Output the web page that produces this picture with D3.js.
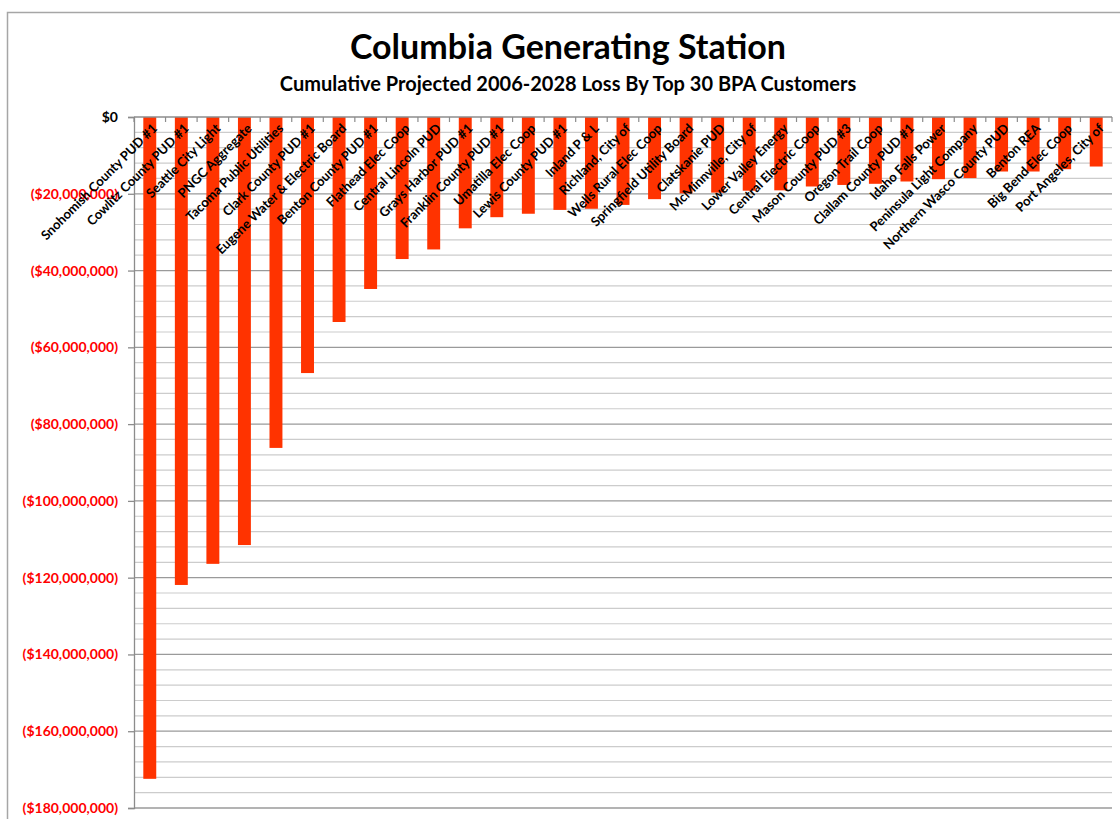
<!DOCTYPE html>
<html lang='en'>
	<head>
		<meta charset='utf-8'>
		<title>Columbia Generating Station</title>
		<script src="https://d3js.org/d3.v7.min.js"></script>
		<style type="text/css">
			body { margin: 0; background: #fff; }
			text { font-family: Lato, "Open Sans", sans-serif; font-weight: bold; }
		</style>
	</head>
	<body>
		<script type='text/javascript'>
			//Customers, in chart order
			var customers = ["Snohomish County PUD #1", "Cowlitz County PUD #1", "Seattle City Light",
				"PNGC Aggregate", "Tacoma Public Utilities", "Clark County PUD #1",
				"Eugene Water & Electric Board", "Benton County PUD #1", "Flathead Elec Coop",
				"Central Lincoln PUD", "Grays Harbor PUD #1", "Franklin County PUD #1",
				"Umatilla Elec Coop", "Lewis County PUD #1", "Inland P & L", "Richland, City of",
				"Wells Rural Elec Coop", "Springfield Utility Board", "Clatskanie PUD",
				"McMinnville, City of", "Lower Valley Energy", "Central Electric Coop",
				"Mason County PUD #3", "Oregon Trail Coop", "Clallam County PUD #1",
				"Idaho Falls Power", "Peninsula Light Company", "Northern Wasco County PUD",
				"Benton REA", "Big Bend Elec Coop", "Port Angeles, City of"];

			//Cumulative loss, millions of dollars
			var losses = [-172.4, -121.9, -116.4, -111.5, -86.2, -66.7, -53.4, -44.8, -37.0,
				-34.5, -29.0, -26.1, -25.2, -24.2, -23.9, -22.9, -21.4, -19.9, -19.7, -19.2,
				-19.1, -18.1, -17.7, -17.4, -16.8, -16.2, -15.9, -14.2, -14.2, -13.6, -12.9];

			//Axis ticks, millions
			var majorTicks = [0, -20, -40, -60, -80, -100, -120, -140, -160, -180];
			var minorTicks = [-4, -8, -12, -16, -24, -28, -32, -36, -44, -48, -52, -56,
				-64, -68, -72, -76, -84, -88, -92, -96, -104, -108, -112, -116,
				-124, -128, -132, -136, -144, -148, -152, -156, -164, -168, -172, -176];

			var w = 1120;
			var h = 819;
			var pLeft = 134, pRight = 1112, pTop = 117, pBottom = 808;

			var svg = d3.select("body")
						.append("svg")
						.attr("width", w)
						.attr("height", h);

			//Outer chart border (top and left only visible)
			svg.append("path")
			   .attr("d", "M7.5,819V12.5H1120")
			   .attr("fill", "none")
			   .attr("stroke", "#a6a6a6")
			   .attr("stroke-width", 1.5);

			var x = d3.scaleBand()
					  .domain(customers)
					  .range([pLeft, pRight])
					  .paddingInner(0.59)
					  .paddingOuter(0.295);

			var y = d3.scaleLinear()
					  .domain([0, -180])
					  .range([pTop, pBottom]);

			//Gridlines
			svg.selectAll(".minor")
			   .data(minorTicks)
			   .enter()
			   .append("line")
			   .attr("class", "minor")
			   .attr("x1", pLeft).attr("x2", pRight)
			   .attr("y1", function(d) { return y(d); })
			   .attr("y2", function(d) { return y(d); })
			   .attr("stroke", "#cccccc")
			   .attr("stroke-width", 1.2);

			svg.selectAll(".major")
			   .data(majorTicks.slice(1))
			   .enter()
			   .append("line")
			   .attr("class", "major")
			   .attr("x1", pLeft).attr("x2", pRight)
			   .attr("y1", function(d) { return y(d); })
			   .attr("y2", function(d) { return y(d); })
			   .attr("stroke", "#9a9a9a")
			   .attr("stroke-width", 1.3);

			//Bars
			svg.selectAll(".bar")
			   .data(losses)
			   .enter()
			   .append("rect")
			   .attr("class", "bar")
			   .attr("x", function(d, i) { return x(customers[i]); })
			   .attr("y", y(0))
			   .attr("width", x.bandwidth())
			   .attr("height", function(d) { return y(d) - y(0); })
			   .attr("fill", "#ff3300");

			//Y axis
			var fmt = d3.format("$,");
			var yAxis = d3.axisLeft(y)
						  .tickValues(majorTicks)
						  .tickSize(6)
						  .tickPadding(10)
						  .tickFormat(function(d) { return d === 0 ? "$0" : "(" + fmt(-d * 1e6) + ")"; });

			var gy = svg.append("g")
						.attr("transform", "translate(" + pLeft + ",0)")
						.call(yAxis);
			gy.select(".domain").attr("stroke", "#8c8c8c").attr("stroke-width", 1.3);
			gy.selectAll(".tick line").attr("stroke", "#8c8c8c").attr("stroke-width", 1.3);
			gy.selectAll(".tick text")
			  .attr("font-size", 14)
			  .attr("font-family", "Lato, sans-serif")
			  .attr("fill", function(d) { return d === 0 ? "#000" : "#ff0000"; });

			//Category axis along the top
			var edges = customers.map(function(c) { return x(c) - x.step() * x.paddingInner() / 2; });
			edges.push(pRight);

			svg.append("line")
			   .attr("x1", pLeft).attr("x2", pRight)
			   .attr("y1", pTop).attr("y2", pTop)
			   .attr("stroke", "#8c8c8c")
			   .attr("stroke-width", 1.3);

			svg.selectAll(".xtick")
			   .data(edges)
			   .enter()
			   .append("line")
			   .attr("class", "xtick")
			   .attr("x1", function(d) { return d; })
			   .attr("x2", function(d) { return d; })
			   .attr("y1", pTop).attr("y2", pTop + 5)
			   .attr("stroke", "#8c8c8c")
			   .attr("stroke-width", 1.2);

			svg.selectAll(".xlabel")
			   .data(customers)
			   .enter()
			   .append("text")
			   .attr("class", "xlabel")
			   .attr("transform", function(d) {
			   	var cx = x(d) + x.bandwidth() / 2 + 5;
			   	return "translate(" + cx + "," + (pTop + 9) + ") rotate(-45)";
			   })
			   .attr("text-anchor", "end")
			   .attr("dy", "0.35em")
			   .attr("font-size", 13)
			   .attr("fill", "#000")
			   .text(function(d) { return d; });

			//Titles
			svg.append("text")
			   .attr("x", 568).attr("y", 59)
			   .attr("text-anchor", "middle")
			   .attr("font-size", 34)
			   .text("Columbia Generating Station");

			svg.append("text")
			   .attr("x", 568).attr("y", 91)
			   .attr("text-anchor", "middle")
			   .attr("font-size", 20)
			   .text("Cumulative Projected 2006-2028 Loss By Top 30 BPA Customers");
		</script>
	</body>
</html>
